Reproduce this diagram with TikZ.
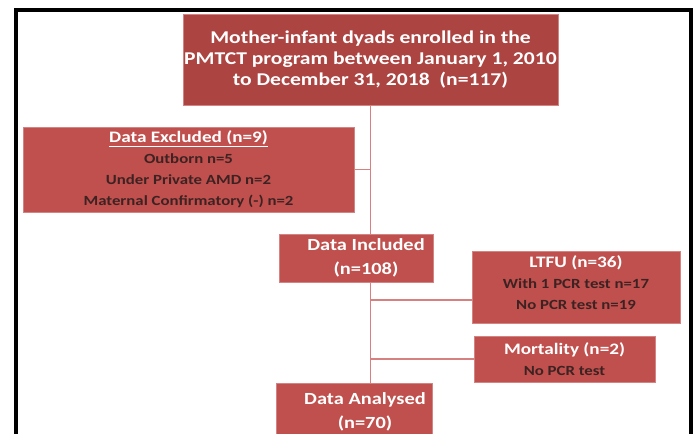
\documentclass[tikz,border=0pt]{standalone}
\usepackage{fontspec}
\setmainfont{Carlito}[FakeStretch=1.2]
\usetikzlibrary{calc}
\definecolor{boxred}{RGB}{192,80,77}
\definecolor{topred}{RGB}{172,68,66}
\definecolor{linkred}{RGB}{214,128,128}
\definecolor{bodytext}{RGB}{60,34,34}
\newcommand{\Px}{1pt}
\newcommand{\Detail}[1]{{\color{bodytext}\fontsize{14pt}{21pt}\selectfont #1}}
\tikzset{Box/.style={
    inner sep=0pt,
    draw=boxred!70!white,
    line width=0.6pt,
    fill=boxred,
    text=white,
    align=center,
    font=\bfseries\fontsize{16pt}{21pt}\selectfont,
    }
}

\begin{document}
\begin{tikzpicture}[x=\Px, y=-\Px,
    link/.style={draw=linkred, line width=1.8pt},
    big/.style={text=white, align=center, inner sep=0pt,
        font=\bfseries\fontsize{17pt}{24pt}\selectfont},
]
\useasboundingbox (0,0) rectangle (697,434);
\clip (0,0) rectangle (697,434);
% frame
\draw[black, line width=4pt] (16,450) -- (16,10) -- (691,10) -- (691,450);
% boxes
\node [Box, fill=topred, minimum width=375, minimum height=91,
    font=\bfseries\fontsize{18pt}{21pt}\selectfont] (enrolled) at (370.5,59.5)
    {Mother-infant dyads enrolled in the\\PMTCT program between January 1, 2010\\to December 31, 2018~~(n=117)};
\node [Box, minimum width=331, minimum height=85] (excluded) at (188.5,169.5)
    {\underline{Data Excluded (n=9)}\\\Detail{Outborn n=5}\\\Detail{Under Private AMD n=2}\\\Detail{Maternal Confirmatory (-) n=2}};
\node [Box, minimum width=154, minimum height=48] (included) at (356,258) {};
\node [big] (includedText) at (366,258) {Data Included\\(n=108)};
\node [Box, minimum width=208, minimum height=72] (ltfu) at (576,287)
    {LTFU (n=36)\\\Detail{With 1 PCR test n=17}\\\Detail{No PCR test n=19}\\[-13pt]};
\node [Box, minimum width=181, minimum height=46] (mortality) at (564.5,359)
    {Mortality (n=2)\\\Detail{No PCR test}};
\node [Box, minimum width=156, minimum height=57] (analysed) at (354,411.5) {};
\node [big] (analysedText) at (365,411.5) {Data Analysed\\(n=70)};
% connectors
\coordinate (spineA) at (enrolled.south);
\coordinate (ltfuJoin) at (370,300);
\draw[link] (spineA) -- (spineA |- included.north);
\draw[link] (excluded.east) -- (excluded.east -| spineA);
\draw[link] (spineA |- included.south) -- (spineA |- analysed.north);
\draw[link] (ltfuJoin) -- (ltfuJoin -| ltfu.west);
\draw[link] (mortality.west -| spineA) -- (mortality.west);
\end{tikzpicture}
\end{document}
